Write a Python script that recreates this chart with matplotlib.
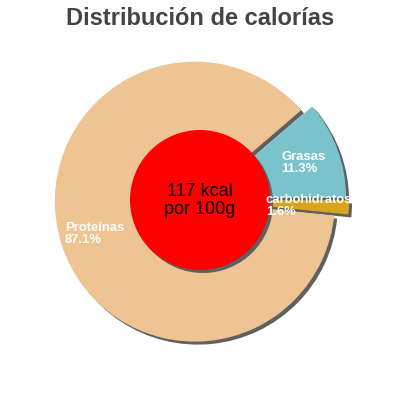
import matplotlib
matplotlib.use("Agg")
import matplotlib.pyplot as plt
from matplotlib.patches import Circle

# --- data ---
categories = ["Grasas", "carbohidratos", "Proteínas"]
shares = [11.3, 1.6, 87.1]
pct_labels = ["11.3%", "1.6%", "87.1%"]
colors = ["#7bc3cc", "#d9a41f", "#edc492"]
explode = [6.5, 9, 5.4]   # pixels, pie puts explode in data units
energy_kcal = 117
title = "Distribución de calorías"

plt.rcParams["font.family"] = ["Liberation Sans", "DejaVu Sans"]

fig = plt.figure(figsize=(4, 4), dpi=100)
ax = fig.add_axes([0, 0, 1, 1])

R = 140
cx, cy = 200, 200
shadow_col = "#606060"

# shadow first (same wedges shifted right/down), then the real pie
ax.pie(shares, radius=R, center=(cx + 3, cy - 3), startangle=40.7,
       counterclock=False, explode=explode, colors=[shadow_col] * 3,
       wedgeprops=dict(linewidth=0), frame=True)
ax.pie(shares, radius=R, center=(cx, cy), startangle=40.7,
       counterclock=False, explode=explode, colors=colors,
       wedgeprops=dict(linewidth=0), frame=True)
ax.set_xlim(0, 400)
ax.set_ylim(0, 400)
ax.set_aspect("equal")
ax.axis("off")

# centre disc with its own shadow
ax.add_patch(Circle((cx + 3, cy - 3), 70, color=shadow_col, lw=0))
ax.add_patch(Circle((cx, cy), 70, color="#ff0000", lw=0))
ax.text(cx, 400 - 196, f"{energy_kcal} kcal", ha="center", va="baseline",
        fontsize=13, color="black")
ax.text(cx, 400 - 214.3, "por 100g", ha="center", va="baseline",
        fontsize=13, color="black")

# slice labels (left aligned, two lines)
label_pos = [(281, 160.5), (266, 203), (65, 231)]
for name, pct, (lx, ly) in zip(categories, pct_labels, label_pos):
    ax.text(lx, 400 - ly, name, ha="left", va="baseline", fontsize=9.4,
            fontweight="bold", color="white")
    ax.text(lx, 400 - ly - 11.8, pct, ha="left", va="baseline", fontsize=9.4,
            fontweight="bold", color="white")

ax.text(200, 400 - 25, title, ha="center", va="baseline", fontsize=17,
        fontweight="bold", color="#444444")

fig.savefig("out.png", dpi=100, facecolor="white")
